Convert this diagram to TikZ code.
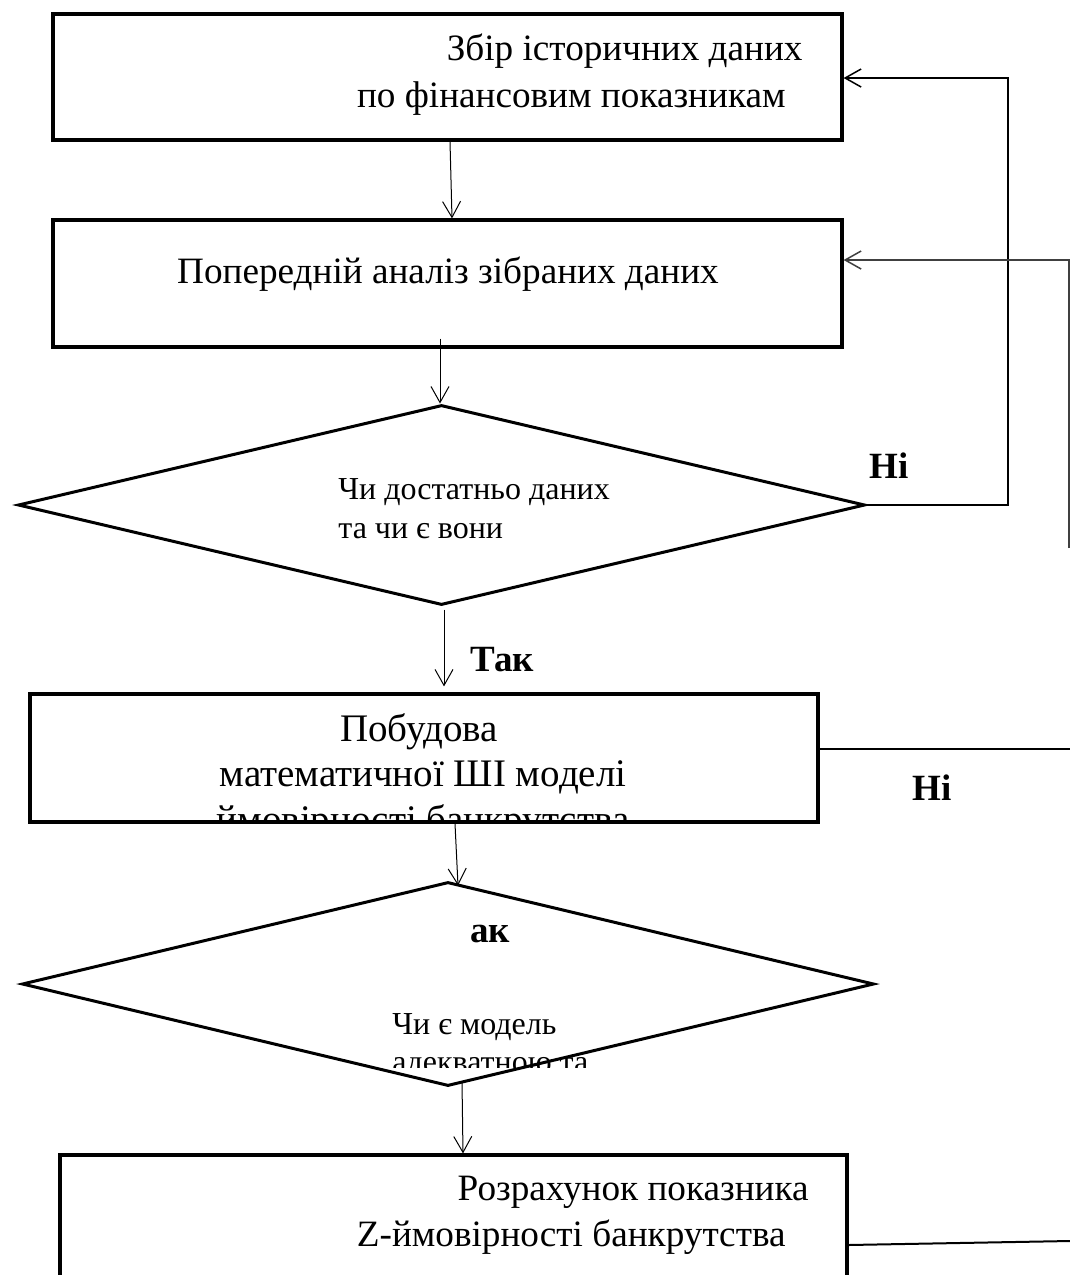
\documentclass[tikz,border=0pt]{standalone}
\usepackage{fontspec}
\setmainfont{Liberation Serif}
\usetikzlibrary{arrows.meta,shapes.geometric}
\begin{document}
\begin{tikzpicture}[x=0.5pt,y=-0.5pt,
  boxshape/.style={draw, rectangle, line width=1.6pt, inner sep=0pt},
  diashape/.style={draw, diamond, line width=1.5pt, inner sep=0pt},
  conn/.style={line width=0.5pt, -{Straight Barb[length=8pt,width=9pt]}},
  feed/.style={line width=0.75pt},
  txt/.style={inner sep=0pt, font=\fontsize{18.6}{22}\selectfont},
  bigtxt/.style={inner sep=0pt, font=\fontsize{19.5}{23}\selectfont},
  dtxt/.style={inner sep=0pt, font=\fontsize{16}{19}\selectfont},
  lbl/.style={inner sep=0pt, font=\fontsize{18.5}{22}\selectfont\bfseries}
]
\useasboundingbox (0,0) rectangle (1070,1275);
\fill[white] (0,0) rectangle (1070,1275);
\clip (0,0) rectangle (1070,1275);

% helper coordinates
\coordinate (x440) at (440,0);
\coordinate (x444) at (444,0);
\coordinate (x450) at (450,0);
\coordinate (x452) at (452,0);
\coordinate (x455) at (455,0);
\coordinate (x458) at (458,0);
\coordinate (x462) at (462,0);
\coordinate (x463) at (463,0);
\coordinate (y78) at (0,78);
\coordinate (y260) at (0,260);
\coordinate (y750) at (0,749);
\coordinate (y1245) at (0,1245);
\coordinate (rtop) at (1008,78);
\coordinate (r2bot) at (1069,548);
\coordinate (r3end) at (1070,749);
\coordinate (r4end) at (1070,1241);

% boxes
\node[boxshape, minimum width=394.5pt, minimum height=63pt] (b1) at (447.5,77) {};
\node[boxshape, minimum width=394.5pt, minimum height=63.5pt] (b2) at (447.5,283.5) {};
\node[diashape, minimum width=423.5pt, minimum height=100pt] (d1) at (441.5,505) {};

% box 3 clipped text first, then frame
\begin{scope}
\clip (30,694) rectangle (818,822);
\node[bigtxt, anchor=base] (t3c) at (423,832) {ймовірності банкрутства};
\end{scope}
\node[boxshape, minimum width=394pt, minimum height=64pt] (b3) at (424,758) {};

\begin{scope}
\clip (0,1000) rectangle (1070,1067);
\node[dtxt, anchor=base west] (t5b) at (392,1072) {адекватною та};
\end{scope}
\node[diashape, minimum width=426pt, minimum height=102pt] (d2) at (448,984) {};

\node[boxshape, minimum width=393.5pt, minimum height=122.5pt] (b4) at (453.5,1277.5) {};

% texts
\node[txt, anchor=base east] (t1a) at (803,60) {Збір історичних даних};
\node[txt, anchor=base east] (t1b) at (786,107) {по фінансовим показникам};
\node[txt, anchor=base] (t2) at (448,283) {Попередній аналіз зібраних даних};
\node[dtxt, anchor=base west] (t4a) at (338,499) {Чи достатньо даних};
\node[dtxt, anchor=base west] (t4b) at (338,538) {та чи є вони};
\node[bigtxt, anchor=base] (t3a) at (419,741) {Побудова};
\node[bigtxt, anchor=base] (t3b) at (423,786) {математичної ШІ моделі};
\node[dtxt, anchor=base west] (t5a) at (392,1034) {Чи є модель};
\node[txt, anchor=base east] (t6a) at (809,1200) {Розрахунок показника};
\node[txt, anchor=base east] (t6b) at (786,1246) {Z-ймовірності банкрутства};

% labels
\node[lbl, anchor=base west] (lno1) at (869,478) {Ні};
\node[lbl, anchor=base west] (lyes) at (470,671) {Так};
\node[lbl, anchor=base west] (lno2) at (912,800) {Ні};
\node[lbl, anchor=base west] (lak) at (470,942) {ак};

% connectors
\draw[conn] (b1.south -| x450) -- (b2.north -| x452);
\draw[conn] ([yshift=5pt]b2.south -| x440) -- (d1.north -| x440);
\draw[conn] ([yshift=-1.5pt]d1.south -| x444) -- ([yshift=3pt]b3.north -| x444);
\draw[conn] (b3.south -| x455) -- ([yshift=-2.5pt]d2.north -| x458);
\draw[conn] ([yshift=3pt]d2.south -| x462) -- (b4.north -| x463);

\draw[feed, -{Straight Barb[length=8pt,width=9pt]}] (d1.east) -| (rtop) -- (b1.east |- y78);
\draw[feed, black!75, -{Straight Barb[length=8pt,width=9pt]}] (r2bot) |- (b2.east |- y260);
\draw[feed, line width=1pt] (b3.east |- y750) -- (r3end);
\draw[feed, line width=1pt] (b4.east |- y1245) -- (r4end);
\end{tikzpicture}
\end{document}
